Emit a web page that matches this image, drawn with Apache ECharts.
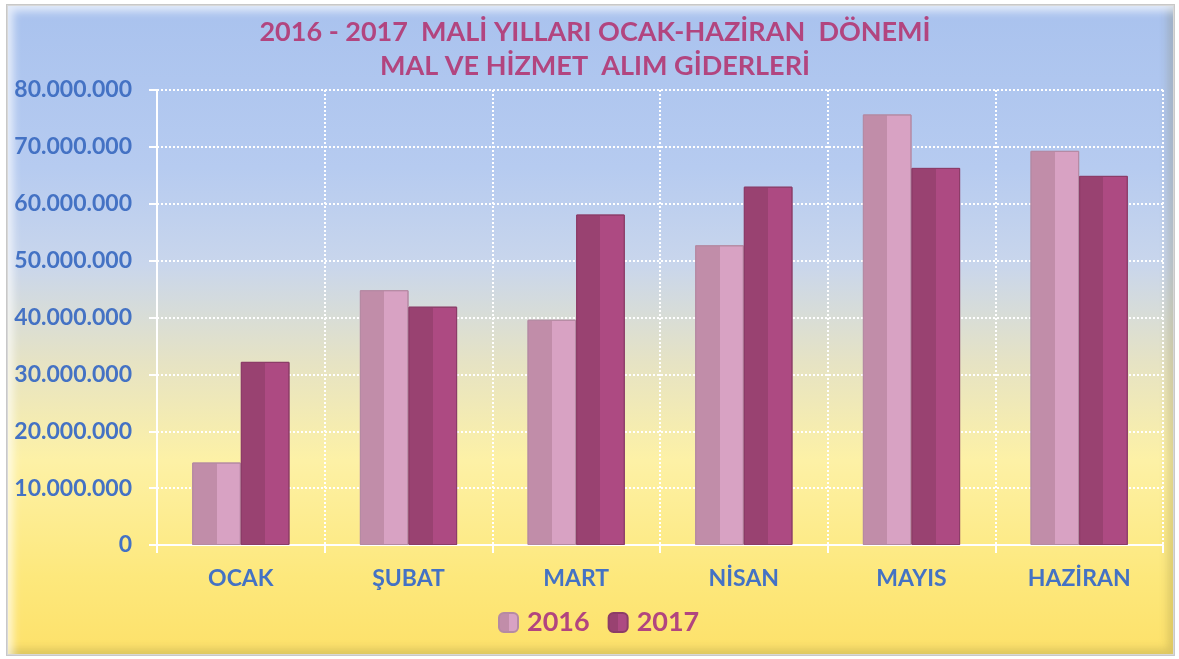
<!DOCTYPE html>
<html>
<head>
<meta charset="utf-8">
<script src="https://cdn.jsdelivr.net/npm/echarts@6/dist/echarts.min.js"></script>
<style>
html, body { margin: 0; padding: 0; width: 1179px; height: 659px; background: #ffffff; overflow: hidden; }
.frame {
    position: absolute; left: 6px; top: 4px; width: 1167px; height: 650px;
    background: linear-gradient(to bottom, #a9c2ee 0%, #b6cbf0 25%, #c9d6ec 40%, #e6e3c4 55%, #fdf1a6 70%, #fde87c 88%, #fde16a 100%);
    box-shadow: inset 0 0 0 1px #d8d8d8, inset 6px 6px 8px rgba(255,255,255,0.7), inset -6px -6px 8px rgba(120,110,60,0.25);
    border: 1px solid #c8c8c8;
}
#main { position: absolute; left: 0; top: 0; width: 1179px; height: 659px; }
</style>
</head>
<body>
<div class="frame"></div>
<div id="main"></div>
<script>
// aylar ve yıllara göre giderler
var months = ['OCAK', 'ŞUBAT', 'MART', 'NİSAN', 'MAYIS', 'HAZİRAN'];
var years = ['2016', '2017'];
var values2016 = [14500000, 44800000, 39600000, 52700000, 75700000, 69300000];
var values2017 = [32200000, 41900000, 58100000, 63000000, 66300000, 64900000];
var yTicks = [0, 10000000, 20000000, 30000000, 40000000, 50000000, 60000000, 70000000, 80000000];

function dotted(n) {
    return String(n).replace(/\B(?=(\d{3})+(?!\d))/g, '.');
}

function barColor(dark, light) {
    return {
        type: 'linear', x: 0, y: 0, x2: 1, y2: 0,
        colorStops: [
            { offset: 0, color: dark },
            { offset: 0.5, color: dark },
            { offset: 0.5, color: light },
            { offset: 1, color: light }
        ]
    };
}

var myChart = echarts.init(document.getElementById('main'));
var option = {
    backgroundColor: 'transparent',
    textStyle: { fontFamily: 'Lato' },
    title: {
        text: '2016 - 2017  MALİ YILLARI OCAK-HAZİRAN  DÖNEMİ\nMAL VE HİZMET  ALIM GİDERLERİ',
        left: 590,
        textAlign: 'center',
        top: 10,
        textStyle: {
            fontFamily: 'Lato',
            fontSize: 27,
            fontWeight: 'bold',
            color: '#b2457f',
            lineHeight: 34
        }
    },
    legend: {
        data: years,
        left: 493,
        top: 604,
        itemWidth: 19,
        itemHeight: 19,
        itemGap: 18,
        textStyle: { fontSize: 27, fontWeight: 'bold', color: '#b2457f', fontFamily: 'Lato', padding: [0, 0, 0, 4] }
    },
    grid: { left: 157, right: 16, top: 90, bottom: 114 },
    xAxis: {
        type: 'category',
        data: months,
        axisLine: { lineStyle: { color: '#ffffff', width: 2 } },
        axisTick: { show: true, length: 8, lineStyle: { color: '#ffffff', width: 2 } },
        splitLine: { show: true, lineStyle: { color: '#ffffff', type: 'dotted', width: 2 } },
        axisLabel: { margin: 22, fontSize: 23, fontWeight: 'bold', color: '#4472c4', fontFamily: 'Lato' }
    },
    yAxis: {
        type: 'value',
        min: yTicks[0],
        max: yTicks[yTicks.length - 1],
        interval: yTicks[1] - yTicks[0],
        axisLine: { show: true, lineStyle: { color: '#ffffff', width: 2 } },
        axisTick: { show: true, length: 8, lineStyle: { color: '#ffffff', width: 2 } },
        splitLine: { lineStyle: { color: '#ffffff', type: 'dotted', width: 2 } },
        axisLabel: {
            margin: 25, fontSize: 23, fontWeight: 'bold', color: '#4472c4', fontFamily: 'Lato',
            formatter: function (v) { return dotted(v); }
        }
    },
    series: [
        {
            name: years[0],
            type: 'bar',
            data: values2016,
            barGap: '0%',
            barCategoryGap: '42%',
            itemStyle: { color: barColor('#c18da9', '#d8a2c3'), borderColor: '#b58aa3', borderWidth: 1 }
        },
        {
            name: years[1],
            type: 'bar',
            data: values2017,
            itemStyle: { color: barColor('#994271', '#ad4a82'), borderColor: '#8c3c68', borderWidth: 1 }
        }
    ]
};
myChart.setOption(option, true);
window.onresize = myChart.resize;
</script>
</body>
</html>
